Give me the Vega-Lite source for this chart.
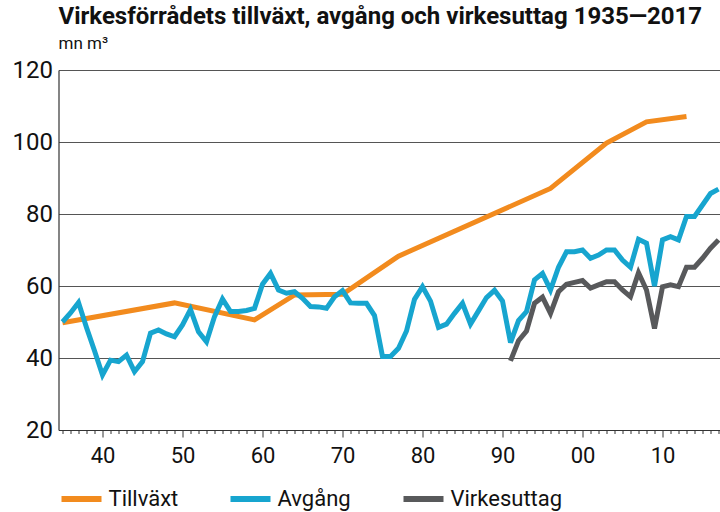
{
  "$schema": "https://vega.github.io/schema/vega-lite/v6.json",
  "width": 662,
  "height": 360,
  "autosize": {"type": "none"},
  "padding": {"left": 58.5, "top": 70, "right": 0, "bottom": 82},
  "background": "white",
  "config": {"view": {"stroke": null}, "font": "Roboto"},
  "title": {
    "text": "Virkesförrådets tillväxt, avgång och virkesuttag 1935—2017",
    "subtitle": "mn m³",
    "anchor": "start",
    "frame": "group",
    "font": "Roboto",
    "fontSize": 24,
    "fontWeight": "bold",
    "color": "#111111",
    "subtitleFont": "Roboto",
    "subtitleFontSize": 17,
    "subtitleFontWeight": "normal",
    "subtitleColor": "#111111",
    "subtitlePadding": 7,
    "offset": 6
  },
  "data": {"values": [
    {"serie": "Tillväxt", "year": 1935, "value": 49.8},
    {"serie": "Tillväxt", "year": 1949, "value": 55.3},
    {"serie": "Tillväxt", "year": 1959, "value": 50.6},
    {"serie": "Tillväxt", "year": 1964, "value": 57.5},
    {"serie": "Tillväxt", "year": 1970, "value": 57.7},
    {"serie": "Tillväxt", "year": 1977, "value": 68.3},
    {"serie": "Tillväxt", "year": 1996, "value": 87.1},
    {"serie": "Tillväxt", "year": 2003, "value": 99.7},
    {"serie": "Tillväxt", "year": 2008, "value": 105.6},
    {"serie": "Tillväxt", "year": 2013, "value": 107.1},
    {"serie": "Avgång", "year": 1935, "value": 50},
    {"serie": "Avgång", "year": 1936, "value": 52.5},
    {"serie": "Avgång", "year": 1937, "value": 55.4},
    {"serie": "Avgång", "year": 1938, "value": 48.5},
    {"serie": "Avgång", "year": 1939, "value": 42},
    {"serie": "Avgång", "year": 1940, "value": 35.3},
    {"serie": "Avgång", "year": 1941, "value": 39.4},
    {"serie": "Avgång", "year": 1942, "value": 39},
    {"serie": "Avgång", "year": 1943, "value": 40.8},
    {"serie": "Avgång", "year": 1944, "value": 36.2},
    {"serie": "Avgång", "year": 1945, "value": 39},
    {"serie": "Avgång", "year": 1946, "value": 46.9},
    {"serie": "Avgång", "year": 1947, "value": 47.8},
    {"serie": "Avgång", "year": 1948, "value": 46.7},
    {"serie": "Avgång", "year": 1949, "value": 45.9},
    {"serie": "Avgång", "year": 1950, "value": 49.2},
    {"serie": "Avgång", "year": 1951, "value": 53.5},
    {"serie": "Avgång", "year": 1952, "value": 47.3},
    {"serie": "Avgång", "year": 1953, "value": 44.5},
    {"serie": "Avgång", "year": 1954, "value": 51.5},
    {"serie": "Avgång", "year": 1955, "value": 56.4},
    {"serie": "Avgång", "year": 1956, "value": 52.9},
    {"serie": "Avgång", "year": 1957, "value": 52.9},
    {"serie": "Avgång", "year": 1958, "value": 53.2},
    {"serie": "Avgång", "year": 1959, "value": 53.8},
    {"serie": "Avgång", "year": 1960, "value": 60.5},
    {"serie": "Avgång", "year": 1961, "value": 63.5},
    {"serie": "Avgång", "year": 1962, "value": 58.9},
    {"serie": "Avgång", "year": 1963, "value": 58},
    {"serie": "Avgång", "year": 1964, "value": 58.4},
    {"serie": "Avgång", "year": 1965, "value": 56.6},
    {"serie": "Avgång", "year": 1966, "value": 54.3},
    {"serie": "Avgång", "year": 1967, "value": 54.2},
    {"serie": "Avgång", "year": 1968, "value": 53.8},
    {"serie": "Avgång", "year": 1969, "value": 57},
    {"serie": "Avgång", "year": 1970, "value": 58.7},
    {"serie": "Avgång", "year": 1971, "value": 55.3},
    {"serie": "Avgång", "year": 1972, "value": 55.2},
    {"serie": "Avgång", "year": 1973, "value": 55.2},
    {"serie": "Avgång", "year": 1974, "value": 51.8},
    {"serie": "Avgång", "year": 1975, "value": 40.4},
    {"serie": "Avgång", "year": 1976, "value": 40.4},
    {"serie": "Avgång", "year": 1977, "value": 42.7},
    {"serie": "Avgång", "year": 1978, "value": 47.5},
    {"serie": "Avgång", "year": 1979, "value": 56.3},
    {"serie": "Avgång", "year": 1980, "value": 59.8},
    {"serie": "Avgång", "year": 1981, "value": 55.8},
    {"serie": "Avgång", "year": 1982, "value": 48.5},
    {"serie": "Avgång", "year": 1983, "value": 49.4},
    {"serie": "Avgång", "year": 1984, "value": 52.4},
    {"serie": "Avgång", "year": 1985, "value": 55.2},
    {"serie": "Avgång", "year": 1986, "value": 49.4},
    {"serie": "Avgång", "year": 1987, "value": 53.1},
    {"serie": "Avgång", "year": 1988, "value": 56.8},
    {"serie": "Avgång", "year": 1989, "value": 58.8},
    {"serie": "Avgång", "year": 1990, "value": 55.8},
    {"serie": "Avgång", "year": 1991, "value": 44.3},
    {"serie": "Avgång", "year": 1992, "value": 50.4},
    {"serie": "Avgång", "year": 1993, "value": 52.9},
    {"serie": "Avgång", "year": 1994, "value": 61.7},
    {"serie": "Avgång", "year": 1995, "value": 63.5},
    {"serie": "Avgång", "year": 1996, "value": 58.9},
    {"serie": "Avgång", "year": 1997, "value": 65.2},
    {"serie": "Avgång", "year": 1998, "value": 69.5},
    {"serie": "Avgång", "year": 1999, "value": 69.5},
    {"serie": "Avgång", "year": 2000, "value": 70},
    {"serie": "Avgång", "year": 2001, "value": 67.7},
    {"serie": "Avgång", "year": 2002, "value": 68.6},
    {"serie": "Avgång", "year": 2003, "value": 70},
    {"serie": "Avgång", "year": 2004, "value": 70},
    {"serie": "Avgång", "year": 2005, "value": 67.2},
    {"serie": "Avgång", "year": 2006, "value": 65.2},
    {"serie": "Avgång", "year": 2007, "value": 73},
    {"serie": "Avgång", "year": 2008, "value": 71.9},
    {"serie": "Avgång", "year": 2009, "value": 60},
    {"serie": "Avgång", "year": 2010, "value": 72.8},
    {"serie": "Avgång", "year": 2011, "value": 73.7},
    {"serie": "Avgång", "year": 2012, "value": 72.8},
    {"serie": "Avgång", "year": 2013, "value": 79.3},
    {"serie": "Avgång", "year": 2014, "value": 79.3},
    {"serie": "Avgång", "year": 2015, "value": 82.5},
    {"serie": "Avgång", "year": 2016, "value": 85.7},
    {"serie": "Avgång", "year": 2017, "value": 86.9},
    {"serie": "Virkesuttag", "year": 1991, "value": 39.2},
    {"serie": "Virkesuttag", "year": 1992, "value": 44.8},
    {"serie": "Virkesuttag", "year": 1993, "value": 47.5},
    {"serie": "Virkesuttag", "year": 1994, "value": 55.2},
    {"serie": "Virkesuttag", "year": 1995, "value": 56.9},
    {"serie": "Virkesuttag", "year": 1996, "value": 52.4},
    {"serie": "Virkesuttag", "year": 1997, "value": 58.4},
    {"serie": "Virkesuttag", "year": 1998, "value": 60.5},
    {"serie": "Virkesuttag", "year": 1999, "value": 61},
    {"serie": "Virkesuttag", "year": 2000, "value": 61.5},
    {"serie": "Virkesuttag", "year": 2001, "value": 59.4},
    {"serie": "Virkesuttag", "year": 2002, "value": 60.3},
    {"serie": "Virkesuttag", "year": 2003, "value": 61.2},
    {"serie": "Virkesuttag", "year": 2004, "value": 61.2},
    {"serie": "Virkesuttag", "year": 2005, "value": 58.9},
    {"serie": "Virkesuttag", "year": 2006, "value": 57},
    {"serie": "Virkesuttag", "year": 2007, "value": 63.7},
    {"serie": "Virkesuttag", "year": 2008, "value": 58.9},
    {"serie": "Virkesuttag", "year": 2009, "value": 48.2},
    {"serie": "Virkesuttag", "year": 2010, "value": 59.8},
    {"serie": "Virkesuttag", "year": 2011, "value": 60.3},
    {"serie": "Virkesuttag", "year": 2012, "value": 59.8},
    {"serie": "Virkesuttag", "year": 2013, "value": 65.2},
    {"serie": "Virkesuttag", "year": 2014, "value": 65.2},
    {"serie": "Virkesuttag", "year": 2015, "value": 67.7},
    {"serie": "Virkesuttag", "year": 2016, "value": 70.5},
    {"serie": "Virkesuttag", "year": 2017, "value": 72.8}
  ]},
  "mark": {"type": "line", "strokeWidth": 5, "strokeJoin": "miter", "strokeMiterLimit": 3, "clip": true},
  "encoding": {
    "x": {
      "field": "year",
      "type": "quantitative",
      "scale": {"domain": [1934.5, 2017.25], "nice": false, "zero": false},
      "axis": {
        "title": null,
        "grid": false,
        "domain": true,
        "domainColor": "#333333",
        "domainWidth": 1.2,
        "values": [1935,1936,1937,1938,1939,1940,1941,1942,1943,1944,1945,1946,1947,1948,1949,1950,1951,1952,1953,1954,1955,1956,1957,1958,1959,1960,1961,1962,1963,1964,1965,1966,1967,1968,1969,1970,1971,1972,1973,1974,1975,1976,1977,1978,1979,1980,1981,1982,1983,1984,1985,1986,1987,1988,1989,1990,1991,1992,1993,1994,1995,1996,1997,1998,1999,2000,2001,2002,2003,2004,2005,2006,2007,2008,2009,2010,2011,2012,2013,2014,2015,2016,2017],
        "tickColor": "#333333",
        "tickWidth": 1,
        "tickSize": {"condition": {"test": "datum.value % 10 === 0", "value": 7}, "value": 3.5},
        "labelExpr": "datum.value % 10 === 0 ? substring(toString(datum.value), 2, 4) : ''",
        "labelOverlap": false,
        "labelFontSize": 22,
        "labelColor": "#111111",
        "labelPadding": 8,
        "labelFlush": false
      }
    },
    "y": {
      "field": "value",
      "type": "quantitative",
      "scale": {"domain": [20, 120], "nice": false, "zero": false},
      "axis": {
        "title": null,
        "values": [20, 40, 60, 80, 100, 120],
        "grid": true,
        "gridColor": "#555555",
        "gridWidth": 1,
        "domain": true,
        "domainColor": "#333333",
        "domainWidth": 1.2,
        "ticks": false,
        "labelFontSize": 24,
        "labelColor": "#111111",
        "labelPadding": 6
      }
    },
    "color": {
      "field": "serie",
      "type": "nominal",
      "scale": {"domain": ["Tillväxt", "Avgång", "Virkesuttag"], "range": ["#F28B1E", "#17A5CF", "#58595B"]},
      "legend": {
        "title": null,
        "orient": "bottom",
        "direction": "horizontal",
        "symbolType": "stroke",
        "symbolStrokeWidth": 6,
        "symbolSize": 1600,
        "labelFontSize": 22,
        "labelColor": "#111111",
        "labelOffset": 4,
        "columnPadding": 40,
        "offset": 10,
        "padding": 0
      }
    }
  }
}
